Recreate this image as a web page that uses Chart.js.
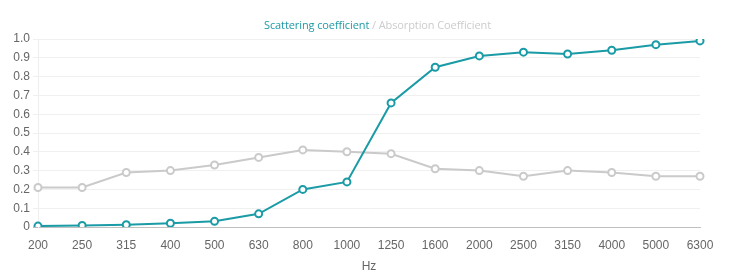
<!DOCTYPE html>
<html>
<head>
<meta charset="utf-8">
<script src="https://cdn.jsdelivr.net/npm/chart.js@4/dist/chart.umd.min.js"></script>
<style>
  html, body { margin: 0; padding: 0; background: #fff; }
  #wrap { position: relative; width: 739px; height: 274px; }
  #ttl { position: absolute; top: 17px; left: 264px; font-family: "Open Sans", "Noto Sans", sans-serif; font-size: 11px; color: #cccccc; white-space: nowrap; letter-spacing: -0.1px; }
  #ttl .a { color: #1f9aa6; }
</style>
</head>
<body>
<div id="wrap">
  <canvas id="c" width="739" height="274"></canvas>
  <div id="ttl"><span class="a">Scattering coefficient</span> / Absorption Coefficient</div>
</div>
<script>
const frequencies = ["200","250","315","400","500","630","800","1000","1250","1600","2000","2500","3150","4000","5000","6300"];
const scattering = [0.005, 0.008, 0.012, 0.02, 0.03, 0.07, 0.2, 0.24, 0.66, 0.85, 0.91, 0.93, 0.92, 0.94, 0.97, 0.99];
const absorption = [0.21, 0.21, 0.29, 0.3, 0.33, 0.37, 0.41, 0.4, 0.39, 0.31, 0.3, 0.27, 0.3, 0.29, 0.27, 0.27];
const yTicks = [0, 0.1, 0.2, 0.3, 0.4, 0.5, 0.6, 0.7, 0.8, 0.9, 1.0];

const tealColor = '#1a9ba6';
const grayColor = '#cacaca';

new Chart(document.getElementById('c'), {
  type: 'line',
  data: {
    labels: frequencies,
    datasets: [
      {
        label: 'Absorption Coefficient',
        data: absorption,
        borderColor: grayColor,
        backgroundColor: '#ffffff',
        pointBackgroundColor: '#ffffff',
        pointBorderColor: grayColor,
        borderWidth: 2,
        pointRadius: 3.5,
        pointBorderWidth: 2,
        tension: 0,
        fill: false,
        order: 2
      },
      {
        label: 'Scattering coefficient',
        data: scattering,
        borderColor: tealColor,
        backgroundColor: '#ffffff',
        pointBackgroundColor: '#ffffff',
        pointBorderColor: tealColor,
        borderWidth: 2,
        pointRadius: 3.5,
        pointBorderWidth: 2,
        tension: 0,
        fill: false,
        order: 1
      }
    ]
  },
  options: {
    responsive: false,
    animation: false,
    layout: { padding: { top: 39, right: 39, left: 0, bottom: 0 } },
    plugins: {
      legend: { display: false },
      title: { display: false },
      tooltip: { enabled: false }
    },
    scales: {
      x: {
        offset: false,
        grid: { display: false },
        border: { display: true, color: '#c0c0c0', width: 1 },
        ticks: {
          color: '#666',
          font: { family: '"Liberation Sans", Arial, sans-serif', size: 12 },
          padding: 3,
          maxRotation: 0,
          autoSkip: false
        },
        title: {
          display: true,
          text: 'Hz',
          color: '#666',
          font: { family: '"Liberation Sans", Arial, sans-serif', size: 12 },
          padding: { top: 0, bottom: 0 }
        },
        afterFit: (s) => { s.height = 47; }
      },
      y: {
        min: 0,
        max: 1,
        afterBuildTicks: (s) => { s.ticks = yTicks.map(v => ({ value: v })); },
        grid: {
          color: (ctx) => (ctx.tick && ctx.tick.value === 0) ? '#b8b8b8' : '#f0f0f0',
          tickLength: 5,
          lineWidth: 1
        },
        border: { display: true, color: '#eeeeee', width: 1 },
        ticks: {
          color: '#666',
          font: { family: '"Liberation Sans", Arial, sans-serif', size: 12 },
          padding: 3,
          callback: (v) => v === 0 ? '0' : Number(v).toFixed(1)
        },
        afterFit: (s) => { s.width = 38; }
      }
    }
  }
});
</script>
</body>
</html>
